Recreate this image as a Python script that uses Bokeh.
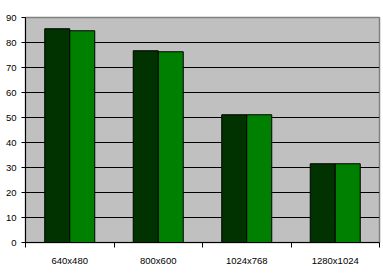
from bokeh.plotting import figure
from bokeh.models import ColumnDataSource, FixedTicker, Range1d
from bokeh.transform import dodge
from bokeh.embed import file_html
from bokeh.resources import INLINE

categories = ["640x480", "800x600", "1024x768", "1280x1024"]
series_a = [85.5, 76.7, 51.1, 31.5]
series_b = [84.7, 76.3, 51.1, 31.5]
y_ticks = [0, 10, 20, 30, 40, 50, 60, 70, 80, 90]

xpos = [i + 0.5 for i in range(len(categories))]
src = ColumnDataSource(data=dict(x=xpos, a=series_a, b=series_b))

p = figure(width=383, height=275, output_backend="svg", toolbar_location=None,
           x_range=Range1d(0, len(categories)), y_range=Range1d(0, 90),
           min_border_left=25, min_border_right=4, min_border_top=17, min_border_bottom=33)

p.background_fill_color = "#C0C0C0"
p.border_fill_color = "white"
p.outline_line_color = "#808080"
p.outline_line_width = 1.5

bw = 0.2825
p.vbar(x=dodge("x", -bw / 2, range=p.x_range), top="a", width=bw, source=src,
       fill_color="#003300", line_color="black", line_width=1)
p.vbar(x=dodge("x", bw / 2, range=p.x_range), top="b", width=bw, source=src,
       fill_color="#008000", line_color="black", line_width=1)

# x axis: labels at centers, ticks at category boundaries
p.xaxis.ticker = FixedTicker(ticks=xpos, minor_ticks=list(range(len(categories) + 1)))
p.xaxis.major_label_overrides = {x: c for x, c in zip(xpos, categories)}
p.xaxis.major_tick_out = 0
p.xaxis.major_tick_in = 0
p.xaxis.minor_tick_out = 5
p.xaxis.minor_tick_in = 0
p.xaxis.minor_tick_line_color = "black"
p.xaxis.major_label_standoff = 7
p.xaxis.axis_line_color = "black"

p.yaxis.ticker = FixedTicker(ticks=y_ticks)
p.yaxis.major_tick_out = 4
p.yaxis.major_tick_in = 0
p.yaxis.minor_tick_out = 0
p.yaxis.minor_tick_in = 0
p.yaxis.major_label_standoff = 5
p.yaxis.axis_line_color = "black"

for ax in (p.xaxis, p.yaxis):
    ax.major_label_text_font = "Liberation Sans"
    ax.major_label_text_font_size = "9.5px"
    ax.major_label_text_color = "black"
    ax.major_tick_line_color = "black"

p.xgrid.visible = False
p.ygrid.ticker = FixedTicker(ticks=y_ticks[1:-1])
p.ygrid.grid_line_color = "black"
p.ygrid.grid_line_width = 1

open("out.html", "w").write(file_html(p, INLINE))
